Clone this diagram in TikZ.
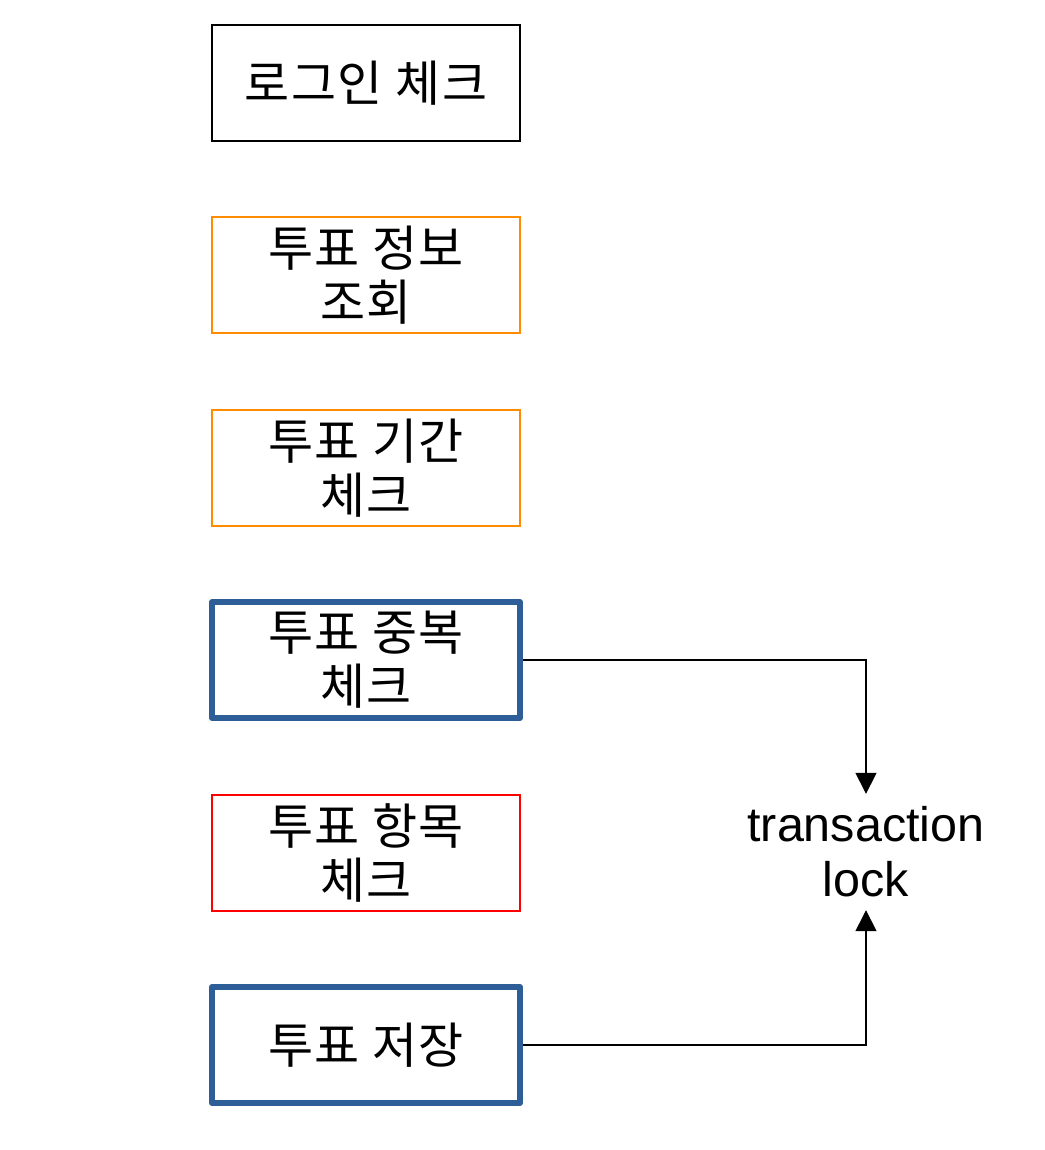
\documentclass[tikz,border=0pt]{standalone}
\usepackage{fontspec}
\setmainfont{Liberation Sans}
\newfontfamily\kr[LetterSpace=3]{Noto Sans CJK KR}
\usetikzlibrary{arrows.meta}
\definecolor{boxblue}{RGB}{46,94,152}
\definecolor{boxorange}{RGB}{255,140,0}
\begin{document}
\begin{tikzpicture}[x=1pt,y=-1pt,
  stepbox/.style={draw, line width=1.5pt, minimum width=308pt, minimum height=116pt,
    inner sep=0pt, align=center, font=\kr\fontsize{49}{54}\selectfont},
  thickbox/.style={stepbox, draw=boxblue, line width=6pt, line join=round},
  conn/.style={line width=1.5pt, -{Triangle[length=21pt,width=21pt]}}]
\useasboundingbox (0,0) rectangle (1044,1150);
\node[stepbox] (login) at (366,83) {로그인 체크};
\node[stepbox, draw=boxorange] (info) at (366,275) {투표 정보\\조회};
\node[stepbox, draw=boxorange] (period) at (366,468) {투표 기간\\체크};
\node[thickbox] (dup) at (366,660) {투표 중복\\체크};
\node[stepbox, draw=red] (item) at (366,853) {투표 항목\\체크};
\node[thickbox] (save) at (366,1045) {투표 저장};
\node[align=center, inner sep=0pt, minimum height=116pt, font=\fontsize{48.5}{55}\selectfont] (lock) at (866,852) {transaction\\lock};
\draw[conn] (dup.east) -| (lock.north);
\draw[conn] (save.east) -| (lock.south);
\end{tikzpicture}
\end{document}
